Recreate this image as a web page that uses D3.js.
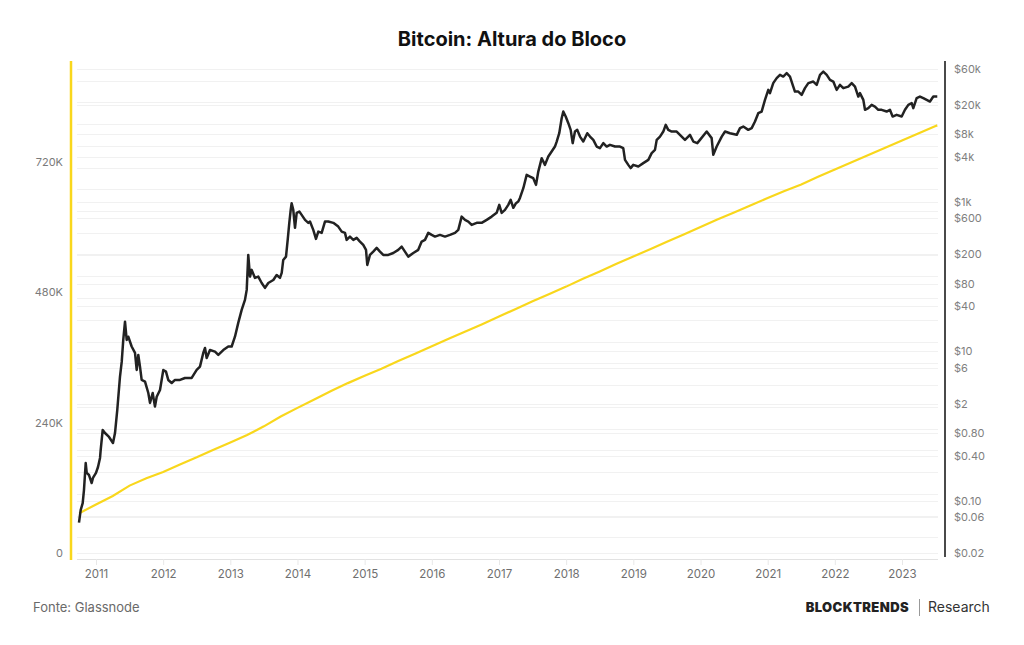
<!DOCTYPE html>
<html>
<head>
<meta charset="utf-8">
<script src="https://cdn.jsdelivr.net/npm/d3@7"></script>
<style>
  body { margin: 0; background: #fff; }
  text { font-family: Inter, "Noto Sans", sans-serif; }
</style>
</head>
<body>
<div id="chart"></div>
<script>
// block height (left axis), sampled quarterly, decimal years
var blockYears = [2010.75, 2011.0, 2011.25, 2011.5, 2011.75, 2012.0, 2012.25, 2012.5, 2012.75,
  2013.0, 2013.25, 2013.5, 2013.75, 2014.0, 2014.25, 2014.5, 2014.75, 2015.0, 2015.25, 2015.5, 2015.75,
  2016.0, 2016.25, 2016.5, 2016.75, 2017.0, 2017.25, 2017.5, 2017.75, 2018.0, 2018.25, 2018.5, 2018.75,
  2019.0, 2019.25, 2019.5, 2019.75, 2020.0, 2020.25, 2020.5, 2020.75, 2021.0, 2021.25, 2021.5, 2021.75,
  2022.0, 2022.25, 2022.5, 2022.75, 2023.0, 2023.25, 2023.5, 2023.525];
var blockHeights = [84000, 100400, 116000, 135000, 148500, 160000, 174000, 187000, 201000,
  214500, 228000, 244000, 262000, 278000, 293500, 309000, 323500, 337000, 350000, 364000, 377500,
  391200, 405000, 418500, 432000, 446000, 460000, 474000, 487500, 501000, 515500, 529000, 543000,
  556500, 569700, 583500, 597000, 610700, 624600, 637300, 650600, 663900, 677000, 689000, 703000,
  716600, 729800, 743200, 756300, 769800, 783000, 796300, 797600];

// btc price (right log axis)
var priceYears = [2010.747, 2010.772, 2010.802, 2010.821, 2010.847, 2010.862, 2010.896, 2010.936, 2010.955,
  2011.000, 2011.030, 2011.060, 2011.070, 2011.100, 2011.134, 2011.194, 2011.253, 2011.283, 2011.317,
  2011.357, 2011.383, 2011.406, 2011.432, 2011.457, 2011.481, 2011.531, 2011.581, 2011.606, 2011.630,
  2011.655, 2011.680, 2011.730, 2011.779, 2011.804, 2011.844, 2011.878, 2011.904, 2011.953,
  2012.002, 2012.042, 2012.076, 2012.127, 2012.176, 2012.251, 2012.325, 2012.425, 2012.499, 2012.548,
  2012.597, 2012.623, 2012.648, 2012.697, 2012.772, 2012.821, 2012.895, 2012.970,
  2013.020, 2013.069, 2013.118, 2013.169, 2013.218, 2013.244, 2013.267, 2013.293, 2013.318, 2013.367,
  2013.416, 2013.467, 2013.516, 2013.565, 2013.640, 2013.690, 2013.739, 2013.765, 2013.788, 2013.829,
  2013.854, 2013.878, 2013.899, 2013.913, 2013.937, 2013.963, 2013.988,
  2014.027, 2014.062, 2014.112, 2014.161, 2014.186, 2014.235, 2014.275, 2014.310, 2014.360, 2014.409,
  2014.458, 2014.533, 2014.607, 2014.658, 2014.707, 2014.732, 2014.781, 2014.831, 2014.881, 2014.930, 2014.979,
  2015.020, 2015.039, 2015.079, 2015.128, 2015.179, 2015.228, 2015.277, 2015.352, 2015.426, 2015.500,
  2015.551, 2015.600, 2015.649, 2015.724, 2015.798, 2015.849, 2015.898, 2015.947, 2015.998,
  2016.047, 2016.121, 2016.196, 2016.270, 2016.345, 2016.394, 2016.444, 2016.494, 2016.543, 2016.593,
  2016.668, 2016.742, 2016.817, 2016.891, 2016.965,
  2017.004, 2017.040, 2017.089, 2017.138, 2017.174, 2017.213, 2017.253, 2017.287, 2017.312, 2017.362,
  2017.412, 2017.461, 2017.510, 2017.551, 2017.585, 2017.636, 2017.684, 2017.734, 2017.784, 2017.833,
  2017.859, 2017.897, 2017.933, 2017.957, 2017.993,
  2018.032, 2018.067, 2018.097, 2018.131, 2018.165, 2018.206, 2018.255, 2018.314, 2018.355, 2018.404,
  2018.454, 2018.503, 2018.553, 2018.603, 2018.652, 2018.727, 2018.801, 2018.850, 2018.876, 2018.925,
  2018.960, 2018.999,
  2019.074, 2019.148, 2019.223, 2019.273, 2019.322, 2019.348, 2019.397, 2019.446, 2019.482, 2019.520,
  2019.571, 2019.645, 2019.720, 2019.769, 2019.843, 2019.893, 2019.952, 2019.992,
  2020.092, 2020.166, 2020.190, 2020.241, 2020.316, 2020.365, 2020.439, 2020.539, 2020.588, 2020.637,
  2020.711, 2020.762, 2020.811, 2020.860, 2020.910, 2020.960,
  2021.009, 2021.034, 2021.083, 2021.134, 2021.183, 2021.232, 2021.283, 2021.332, 2021.381, 2021.406,
  2021.456, 2021.506, 2021.555, 2021.605, 2021.679, 2021.730, 2021.779, 2021.828, 2021.879, 2021.928, 2021.977,
  2022.027, 2022.076, 2022.126, 2022.200, 2022.251, 2022.300, 2022.349, 2022.374, 2022.424, 2022.449,
  2022.498, 2022.548, 2022.597, 2022.647, 2022.697, 2022.771, 2022.820, 2022.860, 2022.920, 2022.995,
  2023.044, 2023.094, 2023.144, 2023.168, 2023.218, 2023.267, 2023.317, 2023.367, 2023.416, 2023.466, 2023.525];
var priceValues = [0.051, 0.075, 0.093, 0.139, 0.32, 0.236, 0.221, 0.173, 0.202,
  0.236, 0.283, 0.374, 0.479, 0.887, 0.807, 0.714, 0.594, 0.807, 1.64,
  4.54, 7.21, 14.2, 24.9, 14.2, 15.7, 11.6, 9.51, 5.63, 8.95,
  6.24, 4.14, 3.93, 2.77, 2.04, 2.77, 1.82, 2.47, 3.04,
  5.63, 5.35, 4.14, 3.77, 4.14, 4.14, 4.40, 4.40, 5.63, 6.24,
  9.51, 11.1, 8.15, 10.4, 9.9, 8.95, 10.4, 11.6,
  11.6, 15.7, 24.0, 35.8, 48.8, 66.4, 195, 100, 123, 96,
  100, 82, 70.6, 82, 90, 105, 96, 112, 167, 185,
  310, 524, 781, 960, 781, 449, 713,
  741, 670, 574, 524, 545, 422, 320, 400, 385, 545,
  545, 524, 467, 400, 385, 310, 343, 310, 330, 294, 265,
  228, 143, 195, 216, 242, 216, 195, 195, 207, 228,
  252, 216, 185, 207, 228, 294, 310, 385, 361,
  343, 361, 343, 361, 385, 422, 635, 574, 545, 492,
  524, 524, 574, 635, 713,
  912, 713, 781, 912, 1064, 832, 960, 1009, 1130, 1524,
  2297, 2182, 2075, 1688, 2543, 3844, 3127, 4039, 4715, 5500,
  6415, 8300, 13180, 16180, 13870,
  11300, 9200, 6110, 8730, 9200, 7480, 6415, 8300, 7480, 6760,
  5500, 5230, 6110, 5500, 5800, 5500, 5500, 5230, 3650, 3127,
  2830, 3127,
  2970, 3300, 3650, 4490, 4960, 6760, 7480, 8730, 10740, 9200,
  8730, 8730, 7480, 6760, 7890, 6415, 6110, 6760,
  8730, 7130, 4260, 5500, 7480, 8730, 8300, 7890, 9690, 10190,
  9200, 9690, 11880, 15380, 16180, 23180,
  31550, 28510, 38810, 45290, 50120, 47530, 52840, 47530, 34910, 29920,
  29920, 27040, 33270, 38810, 40740, 36810, 50120, 55460, 50120, 42950, 40740,
  31550, 36810, 33270, 34910, 38810, 34910, 25650, 28510, 23180, 17060,
  17950, 19860, 18870, 17060, 17060, 16180, 17060, 13870, 14620, 13870,
  17060, 19860, 20940, 17950, 24430, 25650, 24430, 23180, 22030, 25650, 25650];

var yearTicks = [2011, 2012, 2013, 2014, 2015, 2016, 2017, 2018, 2019, 2020, 2021, 2022, 2023];
var heightTicks = [0, 240000, 480000, 720000];
var priceTicks = [0.02, 0.06, 0.1, 0.4, 0.8, 2, 6, 10, 40, 80, 200, 600, 1000, 4000, 8000, 20000, 60000];
var priceLabels = ["$0.02", "$0.06", "$0.10", "$0.40", "$0.80", "$2", "$6", "$10", "$40", "$80",
  "$200", "$600", "$1k", "$4k", "$8k", "$20k", "$60k"];

var width = 1024, height = 645;
var yellow = "#F9D71C";

var svg = d3.select("#chart").append("svg")
    .attr("width", width)
    .attr("height", height)
    .style("background", "#fff");

var x = d3.scaleLinear().domain([2010.628, 2023.64]).range([71, 945]);
var yBlock = d3.scaleLinear().domain([0, 916000]).range([559, 61]);
var yPrice = d3.scaleLog().domain([0.02, 60000]).range([553, 69]);

// gridlines (both axes)
var grid = svg.append("g");
var gridVals = d3.range(0, 916000, 40000).map(function(v) { return yBlock(v); })
    .concat(priceTicks.map(function(v) { return yPrice(v); }));
grid.selectAll("line")
    .data(gridVals)
    .enter().append("line")
    .attr("x1", 77).attr("x2", 938)
    .attr("y1", function(d) { return Math.round(d) + 0.5; })
    .attr("y2", function(d) { return Math.round(d) + 0.5; })
    .style("stroke", "#f1f1f1")
    .style("stroke-width", 1);

// x axis
var xAxis = svg.append("g")
    .attr("transform", "translate(0,559)")
    .call(d3.axisBottom(x).tickValues(yearTicks).tickFormat(d3.format("d")).tickSize(6).tickPadding(5));
xAxis.select(".domain").attr("d", "M77,0.5H938").style("stroke", "#e2e2e2");
xAxis.selectAll(".tick line").style("stroke", "#e8e8e8");
xAxis.selectAll("text")
    .style("font-size", "11.5px")
    .style("fill", "#6f6f6f")
    .style("font-family", "Inter, sans-serif");

// left axis
var yLeft = svg.append("g")
    .attr("transform", "translate(71,0)")
    .call(d3.axisLeft(yBlock).tickValues(heightTicks)
      .tickFormat(function(d) { return d === 0 ? "0" : (d / 1000) + "K"; })
      .tickSize(0).tickPadding(8));
yLeft.select(".domain").remove();
yLeft.selectAll("text")
    .attr("dy", "-0.2em")
    .style("font-size", "11px")
    .style("fill", "#7a7a7a")
    .style("font-family", "Inter, sans-serif");

// right axis
var yRight = svg.append("g")
    .attr("transform", "translate(945,0)")
    .call(d3.axisRight(yPrice).tickValues(priceTicks)
      .tickFormat(function(d, i) { return priceLabels[i]; })
      .tickSize(0).tickPadding(9));
yRight.select(".domain").remove();
yRight.selectAll("text")
    .style("font-size", "11px")
    .style("fill", "#808080")
    .style("font-family", "Inter, sans-serif");

// axis bars
svg.append("line")
    .attr("x1", 71).attr("x2", 71).attr("y1", 61).attr("y2", 560)
    .style("stroke", yellow).style("stroke-width", 2.5);
svg.append("line")
    .attr("x1", 945).attr("x2", 945).attr("y1", 61).attr("y2", 557)
    .style("stroke", "#4a4a4a").style("stroke-width", 2);

// block height line
var blockData = blockYears.map(function(d, i) { return {t: d, v: blockHeights[i]}; });
svg.append("path")
    .datum(blockData)
    .attr("fill", "none")
    .style("stroke", yellow)
    .style("stroke-width", 2.2)
    .attr("d", d3.line()
      .x(function(d) { return x(d.t); })
      .y(function(d) { return yBlock(d.v); }));

// price line
var priceData = priceYears.map(function(d, i) { return {t: d, v: priceValues[i]}; });
svg.append("path")
    .datum(priceData)
    .attr("fill", "none")
    .style("stroke", "#222")
    .style("stroke-width", 2.5)
    .style("stroke-linejoin", "round")
    .attr("d", d3.line()
      .x(function(d) { return x(d.t); })
      .y(function(d) { return yPrice(d.v); }));

// title
svg.append("text")
    .attr("x", 512).attr("y", 46)
    .attr("text-anchor", "middle")
    .style("font-size", "20px")
    .style("font-weight", "700")
    .style("fill", "#111")
    .text("Bitcoin: Altura do Bloco");

// footer
svg.append("text")
    .attr("x", 33).attr("y", 612)
    .style("font-size", "13px")
    .style("fill", "#6a6a6a")
    .text("Fonte: Glassnode");

svg.append("text")
    .attr("x", 909).attr("y", 612)
    .attr("text-anchor", "end")
    .style("font-size", "13px")
    .style("font-weight", "900")
    .style("letter-spacing", "0.4px")
    .style("fill", "#222")
    .text("BLOCKTRENDS");

svg.append("line")
    .attr("x1", 919.5).attr("x2", 919.5).attr("y1", 599).attr("y2", 616)
    .style("stroke", "#999").style("stroke-width", 1);

svg.append("text")
    .attr("x", 928).attr("y", 612)
    .style("font-size", "14px")
    .style("fill", "#333")
    .text("Research");
</script>
</body>
</html>
